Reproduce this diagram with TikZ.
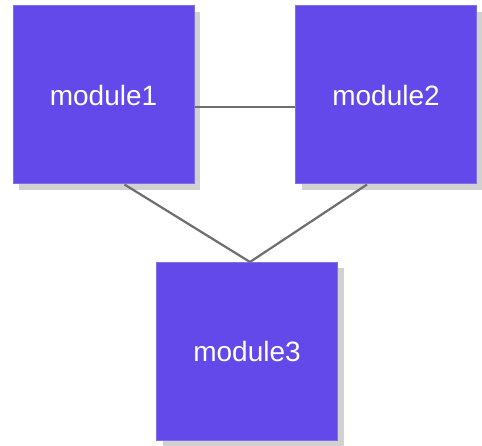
\documentclass[tikz,border=0pt]{standalone}
\usepackage{fontspec}
\setmainfont{Liberation Sans}
\usetikzlibrary{positioning,shadows}

\definecolor{modfill}{RGB}{99,72,234}
\definecolor{linkgray}{RGB}{110,110,110}

\tikzset{
  module/.style={rectangle,fill=modfill,draw=modfill!80!white,line width=1pt,
    minimum width=181pt,minimum height=178pt,text=white,
    font=\fontsize{28}{30}\selectfont,
    drop shadow={shadow xshift=6pt,shadow yshift=-6pt,fill=gray!45,opacity=.8}},
  link/.style={draw=linkgray,line width=2.2pt}
}

\begin{document}
\begin{tikzpicture}[x=1pt,y=-1pt]
     \useasboundingbox (0,0) rectangle (482,446);

     \node[module] (m1) at (103.5,95)  {module1};
     \node[module] (m2) at (386,95)    {module2};
     \node[module] (m3) at (247,351.5) {module3};

     \draw[link] ([yshift=-12pt]m1.east) -- ([yshift=-12pt]m2.west);
     \draw[link] ([xshift=21pt]m1.south) -- ([xshift=3pt]m3.north);
     \draw[link] ([xshift=-19pt]m2.south) -- ([xshift=3pt]m3.north);
\end{tikzpicture}
\end{document}
